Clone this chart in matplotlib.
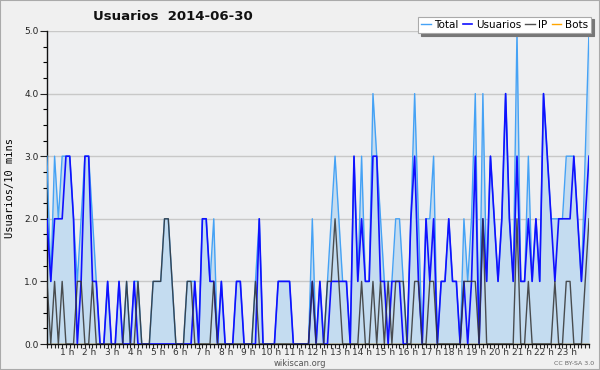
import numpy as np
import matplotlib
matplotlib.use("Agg")
import matplotlib.pyplot as plt
from matplotlib.transforms import ScaledTranslation
from matplotlib.patches import Rectangle

# 10-minute slots over the day (144 values)
usuarios = [2, 1, 2, 2, 2, 3, 3, 2, 0, 1,
            3, 3, 1, 1, 0, 0, 1, 0, 0, 1,
            0, 0, 0, 1, 0, 0, 0, 0, 0, 0,
            0, 0, 0, 0, 0, 0, 0, 0, 0, 1,
            0, 2, 2, 1, 1, 0, 1, 0, 0, 0,
            1, 1, 0, 0, 0, 0, 2, 0, 0, 0,
            0, 1, 1, 1, 1, 0, 0, 0, 0, 0,
            1, 0, 1, 0, 0, 1, 1, 1, 1, 1,
            0, 3, 1, 2, 1, 1, 3, 3, 1, 1,
            0, 1, 1, 1, 0, 0, 2, 3, 1, 0,
            2, 1, 2, 0, 1, 1, 2, 1, 1, 0,
            1, 0, 1, 3, 0, 2, 1, 3, 2, 1,
            2, 4, 2, 1, 3, 1, 1, 2, 1, 2,
            1, 4, 3, 2, 1, 2, 2, 2, 2, 3,
            2, 1, 2, 3]

ip = [1, 0, 1, 0, 1, 0, 0, 0, 1, 1,
      0, 0, 1, 0, 0, 0, 0, 0, 0, 0,
      0, 1, 0, 0, 1, 0, 0, 0, 1, 1,
      1, 2, 2, 1, 0, 0, 0, 1, 1, 0,
      0, 0, 0, 0, 1, 0, 0, 0, 0, 0,
      0, 0, 0, 0, 0, 1, 0, 0, 0, 0,
      0, 0, 0, 0, 0, 0, 0, 0, 0, 0,
      1, 0, 0, 0, 1, 1, 2, 1, 0, 0,
      0, 0, 0, 1, 0, 0, 1, 0, 1, 0,
      1, 0, 1, 1, 1, 0, 0, 1, 1, 0,
      0, 1, 1, 0, 0, 0, 0, 0, 0, 0,
      1, 1, 1, 1, 0, 2, 0, 0, 0, 0,
      0, 0, 0, 0, 2, 0, 0, 1, 0, 0,
      0, 0, 0, 0, 1, 0, 0, 1, 1, 0,
      0, 0, 1, 2]

total = [3, 1, 3, 2, 3, 3, 3, 2, 1, 2,
         3, 3, 2, 1, 0, 0, 1, 0, 0, 1,
         0, 1, 0, 1, 1, 0, 0, 0, 1, 1,
         1, 2, 2, 1, 0, 0, 0, 1, 1, 1,
         0, 2, 2, 1, 2, 0, 1, 0, 0, 0,
         1, 1, 0, 0, 0, 1, 2, 0, 0, 0,
         0, 1, 1, 1, 1, 0, 0, 0, 0, 0,
         2, 0, 1, 0, 1, 2, 3, 2, 1, 1,
         0, 3, 1, 3, 1, 1, 4, 3, 2, 1,
         1, 1, 2, 2, 1, 0, 2, 4, 2, 0,
         2, 2, 3, 0, 1, 1, 2, 1, 1, 0,
         2, 1, 2, 4, 0, 4, 1, 3, 2, 1,
         2, 4, 2, 1, 5, 1, 1, 3, 1, 2,
         1, 4, 3, 2, 2, 2, 2, 3, 3, 3,
         2, 1, 3, 5]

bots = [0] * 144

hour_labels = ["%d h" % h for h in range(1, 24)]
y_ticks = [0.0, 1.0, 2.0, 3.0, 4.0, 5.0]

title = "Usuarios  2014-06-30"
ylabel = "Usuarios/10 mins"

fig = plt.figure(figsize=(6.0, 3.7), dpi=100, facecolor="#f0f0f0")
ax = fig.add_axes([47 / 600, 26 / 370, 542 / 600, 313 / 370])
ax.set_facecolor("#eeeff1")

x = np.arange(len(total))

ax.fill_between(x, 0, total, color="#c4dcf0", lw=0, zorder=1)
ax.plot(x, bots, color="#ffa500", lw=1.0, zorder=2, label="Bots")
ax.plot(x, total, color="#45a2f5", lw=1.0, zorder=3, label="Total")
ax.plot(x, usuarios, color="#1010ff", lw=1.2, zorder=4, label="Usuarios")
ax.plot(x, ip, color="#333333", lw=1.0, alpha=0.85, zorder=5, label="IP")

ax.set_xlim(0, 143)
ax.set_ylim(0, 5)

ax.set_yticks(y_ticks)
ax.set_yticklabels(["%.1f" % v for v in y_ticks])
ax.set_yticks(np.arange(0, 5.01, 0.25), minor=True)
ax.yaxis.grid(True, which="major", color="#c8c8c8", lw=1.0, zorder=0)
ax.set_axisbelow(True)

ax.set_xticks(np.arange(6, 144, 6))
ax.set_xticklabels(hour_labels)
ax.set_xticks(np.arange(0, 144, 1), minor=True)

ax.tick_params(axis="y", which="major", length=5, width=0.8, pad=1,
               labelsize=6.5, colors="#222222")
ax.tick_params(axis="y", which="minor", length=3, width=0.8)
ax.tick_params(axis="x", which="both", length=3, width=0.8, pad=0,
               labelsize=6.5, colors="#222222")
for lab in ax.get_xticklabels():
    lab.set_transform(lab.get_transform() +
                      ScaledTranslation(-3 / 100, 0, fig.dpi_scale_trans))
    lab.set_color("#333333")

for side in ("top", "right"):
    ax.spines[side].set_visible(False)
for side in ("left", "bottom"):
    ax.spines[side].set_color("#111111")
    ax.spines[side].set_linewidth(1.0)

ax.set_ylabel(ylabel, fontsize=7.5, family="DejaVu Sans Mono")
ax.yaxis.set_label_coords(-0.059, 0.5)

fig.text(0.288, 0.955, title, fontsize=9.5, fontweight="bold",
         ha="center", va="center", color="#111111")

handles, labels = ax.get_legend_handles_labels()
order = ["Total", "Usuarios", "IP", "Bots"]
hmap = dict(zip(labels, handles))
leg = fig.legend([hmap[k] for k in order], order, ncol=4,
                 loc="upper right", bbox_to_anchor=(0.985, 0.955),
                 fontsize=7.5, frameon=True, fancybox=False,
                 handlelength=0.9, handletextpad=0.35, columnspacing=0.4,
                 borderpad=0.3, borderaxespad=0,
                 shadow={"color": "#777777", "alpha": 1.0})
leg.get_frame().set_edgecolor("#aaaaaa")
leg.get_frame().set_facecolor("white")
leg.get_frame().set_linewidth(0.8)

fig.text(0.5, 0.018, "wikiscan.org", fontsize=6, ha="center",
         va="center", color="#555555")
fig.text(0.99, 0.018, "CC BY-SA 3.0", fontsize=4.5, ha="right",
         va="center", color="#666666")

fig.patches.append(Rectangle((0, 0), 1, 1, transform=fig.transFigure,
                             fill=False, edgecolor="#aaaaaa", lw=1.5))

fig.savefig("out.png", dpi=100, facecolor=fig.get_facecolor())
